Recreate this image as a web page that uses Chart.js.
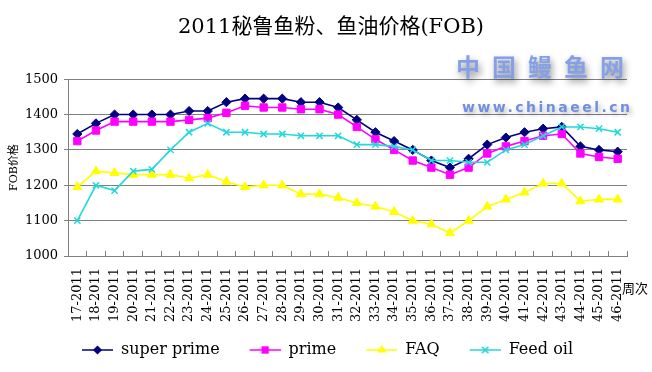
<!DOCTYPE html>
<html>
<head>
<meta charset="utf-8">
<title>2011秘鲁鱼粉、鱼油价格(FOB)</title>
<script src="https://cdn.jsdelivr.net/npm/chart.js"></script>
<style>
    html, body { margin: 0; padding: 0; background: #fff; }
    #wrap { width: 652px; height: 372px; }
</style>
</head>
<body>
<div id="wrap"><canvas id="myChart" width="652" height="372"></canvas></div>
<script>
const weeks = ['17-2011', '18-2011', '19-2011', '20-2011', '21-2011', '22-2011', '23-2011', '24-2011', '25-2011', '26-2011',
    '27-2011', '28-2011', '29-2011', '30-2011', '31-2011', '32-2011', '33-2011', '34-2011', '35-2011', '36-2011',
    '37-2011', '38-2011', '39-2011', '40-2011', '41-2011', '42-2011', '43-2011', '44-2011', '45-2011', '46-2011'];

const superPrime = [1345, 1375, 1400, 1400, 1400, 1400, 1410, 1410, 1435, 1445,
    1445, 1445, 1435, 1435, 1420, 1385, 1350, 1325, 1300, 1270,
    1250, 1275, 1315, 1335, 1350, 1360, 1365, 1310, 1300, 1295];

const prime = [1325, 1355, 1380, 1380, 1380, 1380, 1385, 1390, 1405, 1425,
    1420, 1420, 1415, 1415, 1400, 1365, 1330, 1300, 1270, 1250,
    1230, 1250, 1290, 1310, 1325, 1340, 1345, 1290, 1280, 1275];

const faq = [1195, 1240, 1235, 1230, 1230, 1230, 1220, 1230, 1210, 1195,
    1200, 1200, 1175, 1175, 1165, 1150, 1140, 1125, 1100, 1090,
    1065, 1100, 1140, 1160, 1180, 1205, 1205, 1155, 1160, 1160];

const feedOil = [1100, 1200, 1185, 1240, 1245, 1300, 1350, 1375, 1350, 1350,
    1345, 1345, 1340, 1340, 1340, 1315, 1315, 1310, 1300, 1270,
    1270, 1265, 1265, 1300, 1315, 1340, 1365, 1365, 1360, 1350];

const yTicks = [1000, 1100, 1200, 1300, 1400, 1500];

const serif = '"DejaVu Serif", "Noto Sans CJK SC", serif';

document.addEventListener('DOMContentLoaded', () => {
    const ctx = document.getElementById('myChart').getContext('2d');

    // line + marker pictures for the legend; the left 14px are left empty
    // so the items get a wider gap than the legend padding alone gives
    function legendIcon(color, style, r) {
        const c = document.createElement('canvas');
        c.width = 45;
        c.height = 12;
        const g = c.getContext('2d');
        g.strokeStyle = color;
        g.fillStyle = color;
        g.lineWidth = 1.5;
        g.beginPath();
        g.moveTo(14, 6);
        g.lineTo(45, 6);
        g.stroke();
        const x = 29.5, y = 6;
        g.beginPath();
        if (style === 'rectRot') {
            g.moveTo(x, y - r); g.lineTo(x + r, y); g.lineTo(x, y + r); g.lineTo(x - r, y);
            g.closePath(); g.fill();
        } else if (style === 'rect') {
            const s = r * Math.SQRT1_2;
            g.fillRect(x - s, y - s, 2 * s, 2 * s);
        } else if (style === 'triangle') {
            g.moveTo(x, y - r);
            g.lineTo(x + r * 0.866, y + r * 0.5);
            g.lineTo(x - r * 0.866, y + r * 0.5);
            g.closePath(); g.fill();
        } else {
            const s = r * Math.SQRT1_2;
            g.moveTo(x - s, y - s); g.lineTo(x + s, y + s);
            g.moveTo(x + s, y - s); g.lineTo(x - s, y + s);
            g.stroke();
        }
        return c;
    }

    const series = [
        { label: 'super prime', data: superPrime, color: '#000080', style: 'rectRot', r: 4.6, order: 4 },
        { label: 'prime', data: prime, color: '#ff00ff', style: 'rect', r: 5.2, order: 3 },
        { label: 'FAQ', data: faq, color: '#ffff00', style: 'triangle', r: 5.2, order: 2 },
        { label: 'Feed oil', data: feedOil, color: '#22d8d8', style: 'crossRot', r: 4.4, order: 1 }
    ];

    const icons = series.map(s => legendIcon(s.color, s.style, s.r));

    const extras = {
        id: 'extras',
        afterLayout(chart) {
            // legend sits left of centre, title a bit right of centre
            chart.legend.left = 52;
            chart.titleBlock.left = 10;
            chart.titleBlock.right = 652;
        },
        afterDraw(chart) {
            const c = chart.ctx;
            const area = chart.chartArea;
            c.save();
            c.fillStyle = '#000';
            c.font = '13px "Noto Sans CJK SC"';
            c.textAlign = 'left';
            c.textBaseline = 'middle';
            c.fillText('周次', area.right - 5, 288);

            // site watermark
            c.shadowColor = 'rgba(0, 0, 0, 0.45)';
            c.shadowBlur = 7;
            c.shadowOffsetX = 2;
            c.shadowOffsetY = 4;
            c.textAlign = 'center';
            c.fillStyle = '#86a0e8';
            c.font = 'bold 24px "Noto Sans CJK SC"';
            ['中', '国', '鳗', '鱼', '网'].forEach((ch, i) => {
                c.fillText(ch, 468 + i * 36, 67);
            });
            c.shadowBlur = 5;
            c.shadowOffsetY = 3;
            c.shadowColor = 'rgba(0, 0, 0, 0.3)';
            c.fillStyle = '#6f8fe0';
            c.font = 'bold 14px "DejaVu Sans"';
            c.letterSpacing = '2.5px';
            c.textAlign = 'left';
            c.fillText('www.chinaeel.cn', 462, 108);
            c.restore();
        }
    };

    const myChart = new Chart(ctx, {
        type: 'line',
        data: {
            labels: weeks,
            datasets: series.map(s => ({
                label: s.label,
                data: s.data,
                order: s.order,
                borderColor: s.color,
                backgroundColor: s.color,
                borderWidth: 1.6,
                tension: 0,
                pointStyle: s.style,
                pointRadius: s.r,
                pointHoverRadius: s.r,
                pointBorderWidth: s.style === 'crossRot' ? 1.5 : 1,
                pointBackgroundColor: s.color,
                pointBorderColor: s.color
            }))
        },
        options: {
            responsive: false,
            animation: false,
            devicePixelRatio: 1,
            layout: {
                padding: { left: 4, right: 25, top: 0, bottom: 4 }
            },
            plugins: {
                title: {
                    display: true,
                    text: '2011秘鲁鱼粉、鱼油价格(FOB)',
                    color: '#000',
                    font: { family: serif, size: 21, weight: 'normal' },
                    padding: { top: 15, bottom: 39 }
                },
                legend: {
                    position: 'bottom',
                    align: 'start',
                    labels: {
                        usePointStyle: true,
                        pointStyleWidth: 45,
                        padding: 16,
                        color: '#000',
                        font: { family: serif, size: 16 },
                        sort: (a, b) => a.datasetIndex - b.datasetIndex,
                        generateLabels(chart) {
                            const items = Chart.defaults.plugins.legend.labels.generateLabels(chart);
                            items.forEach(it => { it.pointStyle = icons[it.datasetIndex]; });
                            return items;
                        }
                    }
                },
                tooltip: { enabled: false }
            },
            scales: {
                x: {
                    offset: true,
                    grid: {
                        offset: true,
                        drawOnChartArea: false,
                        tickLength: -5,
                        color: '#7f7f7f'
                    },
                    border: { color: '#7f7f7f' },
                    ticks: {
                        autoSkip: false,
                        minRotation: 90,
                        maxRotation: 90,
                        padding: 17,
                        color: '#000',
                        font: { family: serif, size: 13 }
                    },
                    afterFit(scale) { scale.height = 70; }
                },
                y: {
                    min: yTicks[0],
                    max: yTicks[yTicks.length - 1],
                    afterBuildTicks(scale) { scale.ticks = yTicks.map(v => ({ value: v })); },
                    grid: { color: '#7f7f7f', tickLength: 4 },
                    border: { color: '#7f7f7f' },
                    ticks: {
                        padding: 6,
                        color: '#000',
                        font: { family: serif, size: 13 },
                        callback: (value) => String(value)
                    },
                    title: {
                        display: true,
                        text: 'FOB价格',
                        color: '#000',
                        font: { family: serif, size: 11 },
                        padding: { top: 4, bottom: 0 }
                    },
                    afterFit(scale) { scale.width = 64; }
                }
            }
        },
        plugins: [extras]
    });
});
</script>
</body>
</html>
